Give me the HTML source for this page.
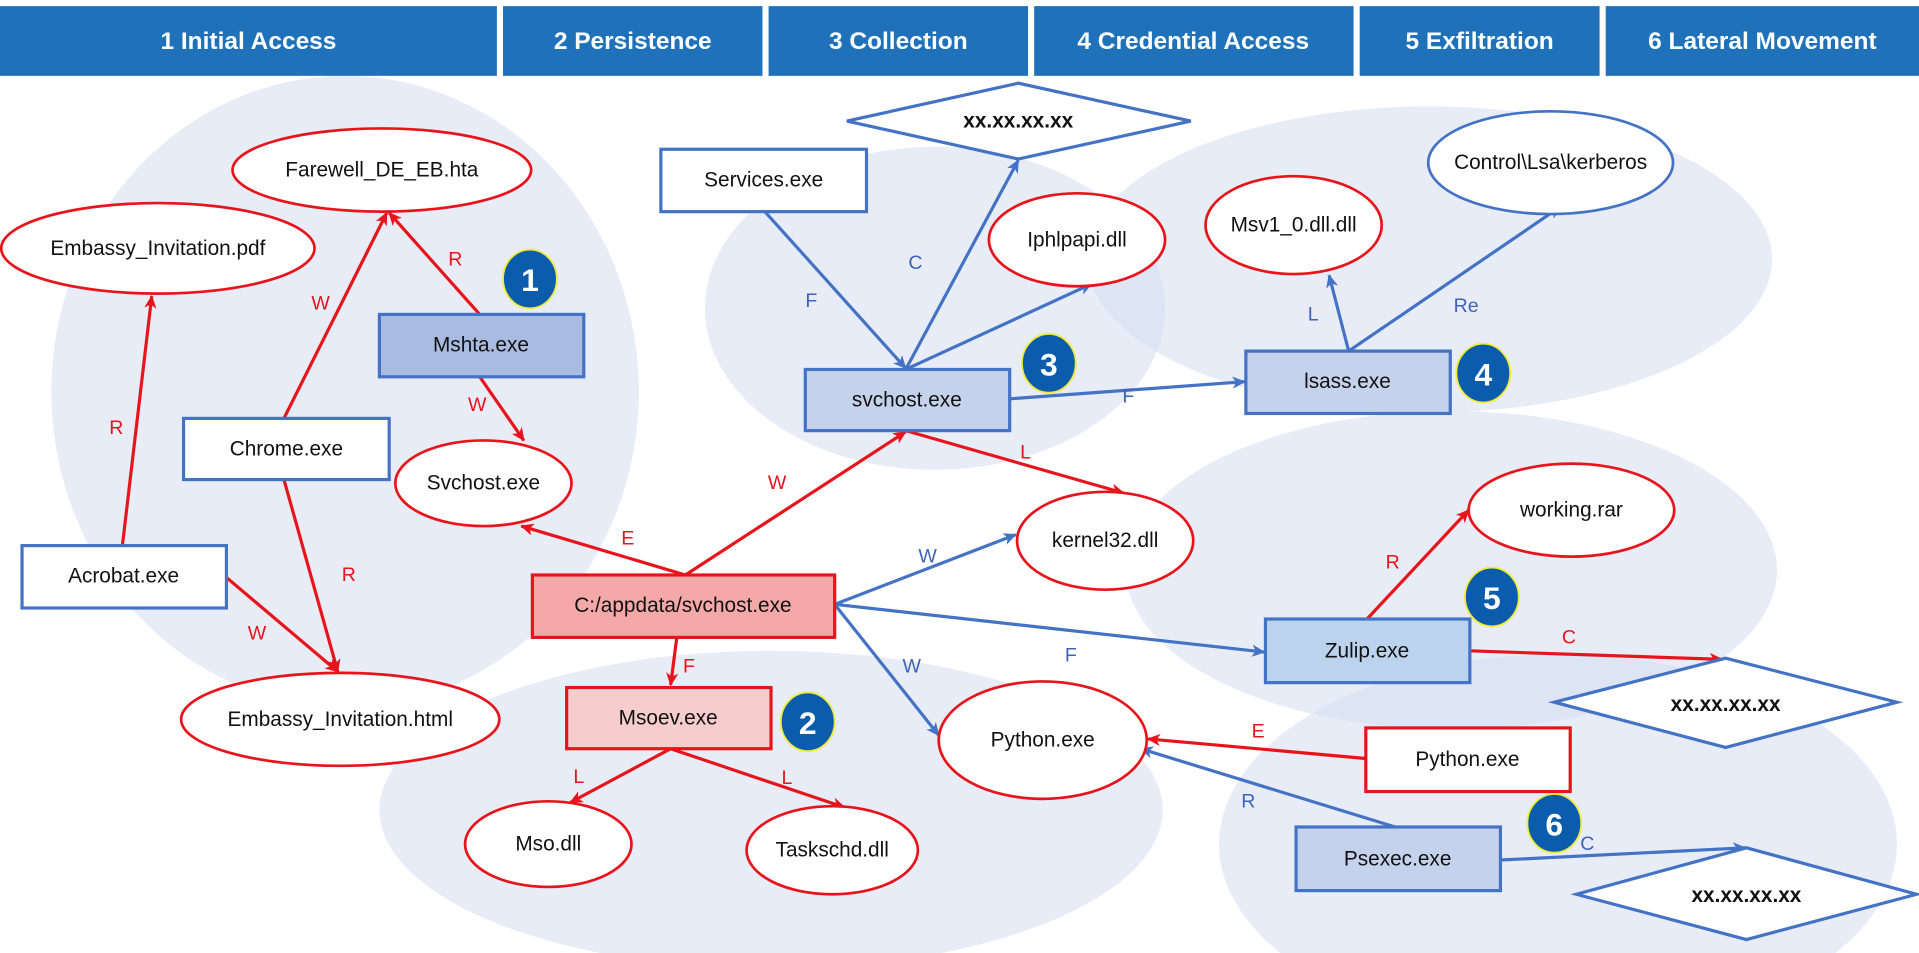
<!DOCTYPE html>
<html><head><meta charset="utf-8"><style>
html,body{margin:0;padding:0;background:#fff;width:1919px;height:953px;overflow:hidden;}
svg{display:block;}
text{font-family:"Liberation Sans",sans-serif;}
.n{font-size:17px;fill:#111;text-anchor:middle;dominant-baseline:central;}
.h{font-size:20px;fill:#fff;font-weight:bold;text-anchor:middle;dominant-baseline:central;}
.lr{font-size:16px;fill:#e8141c;text-anchor:middle;dominant-baseline:central;}
.lb{font-size:16px;fill:#3f63b8;text-anchor:middle;dominant-baseline:central;}
.b{font-size:26px;fill:#fff;font-weight:bold;text-anchor:middle;dominant-baseline:central;}
.er{stroke:#e8141c;stroke-width:2.6;fill:none;marker-end:url(#ar);}
.eb{stroke:#4472c4;stroke-width:2.6;fill:none;marker-end:url(#ab);}
.bg{fill:#d5dff2;opacity:0.58;}
</style></head><body>
<svg width="1919" height="953" viewBox="0 0 1568 779" preserveAspectRatio="none" xmlns="http://www.w3.org/2000/svg">
<defs>
<marker id="ar" markerWidth="11" markerHeight="10" refX="10" refY="5" orient="auto" markerUnits="userSpaceOnUse"><path d="M0,0 L11,5 L0,10 L3,5z" fill="#e8141c"/></marker>
<marker id="ab" markerWidth="11" markerHeight="10" refX="10" refY="5" orient="auto" markerUnits="userSpaceOnUse"><path d="M0,0 L11,5 L0,10 L3,5z" fill="#4472c4"/></marker>
</defs>
<g fill="#1f72ba">
<rect x="0" y="5" width="406" height="57"/>
<rect x="411" y="5" width="212" height="57"/>
<rect x="628" y="5" width="212" height="57"/>
<rect x="845" y="5" width="261" height="57"/>
<rect x="1111" y="5" width="196" height="57"/>
<rect x="1312" y="5" width="256" height="57"/>
</g>
<text class="h" x="203" y="34">1 Initial Access</text>
<text class="h" x="517" y="34">2 Persistence</text>
<text class="h" x="734" y="34">3 Collection</text>
<text class="h" x="975" y="34">4 Credential Access</text>
<text class="h" x="1209" y="34">5 Exfiltration</text>
<text class="h" x="1440" y="34">6 Lateral Movement</text>
<ellipse class="bg" cx="282" cy="320" rx="240" ry="258"/>
<ellipse class="bg" cx="764" cy="252" rx="188" ry="132"/>
<ellipse class="bg" cx="1168" cy="212" rx="280" ry="125"/>
<ellipse class="bg" cx="1186" cy="466" rx="266" ry="130"/>
<ellipse class="bg" cx="1273" cy="690" rx="277" ry="155"/>
<ellipse class="bg" cx="630" cy="662" rx="320" ry="130"/>
<line class="er" x1="100" y1="446" x2="124" y2="242"/>
<line class="er" x1="232" y1="342" x2="316" y2="174"/>
<line class="er" x1="392" y1="257" x2="318" y2="174"/>
<line class="er" x1="392" y1="308" x2="428" y2="360"/>
<line class="er" x1="232" y1="392" x2="276" y2="549"/>
<line class="er" x1="185" y1="472" x2="276" y2="549"/>
<line class="er" x1="560" y1="470" x2="426" y2="430"/>
<line class="er" x1="560" y1="470" x2="740" y2="353"/>
<line class="er" x1="553" y1="521" x2="548" y2="560"/>
<line class="er" x1="548" y1="612" x2="466" y2="656"/>
<line class="er" x1="548" y1="612" x2="690" y2="660"/>
<line class="eb" x1="682" y1="494" x2="830" y2="437"/>
<line class="eb" x1="682" y1="494" x2="767" y2="601"/>
<line class="eb" x1="682" y1="494" x2="1033" y2="533"/>
<line class="eb" x1="625" y1="173" x2="740" y2="301"/>
<line class="eb" x1="740" y1="302" x2="832" y2="131"/>
<line class="eb" x1="740" y1="302" x2="892" y2="232"/>
<line class="er" x1="740" y1="352" x2="918" y2="403"/>
<line class="eb" x1="825" y1="326" x2="1017" y2="312"/>
<line class="eb" x1="1102" y1="287" x2="1086" y2="225"/>
<line class="eb" x1="1102" y1="287" x2="1275" y2="169"/>
<line class="er" x1="1117" y1="506" x2="1200" y2="417"/>
<line class="er" x1="1201" y1="532" x2="1407" y2="539"/>
<line class="er" x1="1116" y1="620" x2="938" y2="604"/>
<line class="eb" x1="1140" y1="676" x2="932" y2="612"/>
<line class="eb" x1="1226" y1="703" x2="1426" y2="693"/>
<text class="lr" x="95" y="350">R</text>
<text class="lr" x="262" y="248">W</text>
<text class="lr" x="372" y="212">R</text>
<text class="lr" x="390" y="331">W</text>
<text class="lr" x="285" y="470">R</text>
<text class="lr" x="210" y="518">W</text>
<text class="lr" x="513" y="440">E</text>
<text class="lr" x="635" y="395">W</text>
<text class="lr" x="563" y="545">F</text>
<text class="lr" x="473" y="635">L</text>
<text class="lr" x="643" y="636">L</text>
<text class="lr" x="838" y="370">L</text>
<text class="lr" x="1138" y="460">R</text>
<text class="lr" x="1282" y="521">C</text>
<text class="lr" x="1028" y="598">E</text>
<text class="lb" x="758" y="455">W</text>
<text class="lb" x="745" y="545">W</text>
<text class="lb" x="875" y="536">F</text>
<text class="lb" x="663" y="246">F</text>
<text class="lb" x="748" y="215">C</text>
<text class="lb" x="922" y="324">F</text>
<text class="lb" x="1073" y="257">L</text>
<text class="lb" x="1198" y="250">Re</text>
<text class="lb" x="1020" y="655">R</text>
<text class="lb" x="1297" y="690">C</text>
<g fill="#fff" stroke="#e8141c" stroke-width="2.2">
<ellipse cx="312" cy="139" rx="122" ry="34"/>
<ellipse cx="129" cy="203" rx="128" ry="37"/>
<ellipse cx="395" cy="395" rx="72" ry="35"/>
<ellipse cx="278" cy="588" rx="130" ry="38"/>
<ellipse cx="448" cy="690" rx="68" ry="35"/>
<ellipse cx="680" cy="695" rx="70" ry="36"/>
<ellipse cx="852" cy="605" rx="85" ry="48"/>
<ellipse cx="880" cy="196" rx="72" ry="38"/>
<ellipse cx="903" cy="442" rx="72" ry="40"/>
<ellipse cx="1057" cy="184" rx="72" ry="40"/>
<ellipse cx="1284" cy="417" rx="84" ry="38"/>
</g>
<ellipse cx="1267" cy="133" rx="100" ry="42" fill="#fff" stroke="#4472c4" stroke-width="2.2"/>
<g fill="#fff" stroke="#4472c4" stroke-width="2.6">
<polygon points="692,99 832,68 973,99 832,130"/>
<polygon points="1270,574 1410,538 1550,574 1410,611"/>
<polygon points="1288,731 1427,693 1566,731 1427,768"/>
</g>
<g stroke-width="2.6">
<rect x="310" y="257" width="167" height="51" fill="#a9bbe0" stroke="#4472c4"/>
<rect x="150" y="342" width="168" height="50" fill="#fff" stroke="#4472c4"/>
<rect x="18" y="446" width="167" height="51" fill="#fff" stroke="#4472c4"/>
<rect x="435" y="470" width="247" height="51" fill="#f5a8a8" stroke="#e8141c"/>
<rect x="463" y="562" width="167" height="50" fill="#f6cccc" stroke="#e8141c"/>
<rect x="540" y="122" width="168" height="51" fill="#fff" stroke="#4472c4"/>
<rect x="658" y="302" width="167" height="50" fill="#c5d2ec" stroke="#4472c4"/>
<rect x="1018" y="287" width="167" height="51" fill="#c5d2ec" stroke="#4472c4"/>
<rect x="1034" y="506" width="167" height="52" fill="#bcd3ee" stroke="#4472c4"/>
<rect x="1116" y="595" width="167" height="52" fill="#fff" stroke="#e8141c"/>
<rect x="1059" y="676" width="167" height="52" fill="#c5d2ec" stroke="#4472c4"/>
</g>
<text class="n" x="312" y="139">Farewell_DE_EB.hta</text>
<text class="n" x="129" y="203">Embassy_Invitation.pdf</text>
<text class="n" x="395" y="395">Svchost.exe</text>
<text class="n" x="278" y="588">Embassy_Invitation.html</text>
<text class="n" x="448" y="690">Mso.dll</text>
<text class="n" x="680" y="695">Taskschd.dll</text>
<text class="n" x="852" y="605">Python.exe</text>
<text class="n" x="880" y="196">Iphlpapi.dll</text>
<text class="n" x="903" y="442">kernel32.dll</text>
<text class="n" x="1057" y="184">Msv1_0.dll.dll</text>
<text class="n" x="1284" y="417">working.rar</text>
<text class="n" x="1267" y="133">Control\Lsa\kerberos</text>
<text class="n" x="832" y="99" font-weight="bold">xx.xx.xx.xx</text>
<text class="n" x="1410" y="576" font-weight="bold">xx.xx.xx.xx</text>
<text class="n" x="1427" y="732" font-weight="bold">xx.xx.xx.xx</text>
<text class="n" x="393" y="282">Mshta.exe</text>
<text class="n" x="234" y="367">Chrome.exe</text>
<text class="n" x="101" y="471">Acrobat.exe</text>
<text class="n" x="558" y="495">C:/appdata/svchost.exe</text>
<text class="n" x="546" y="587">Msoev.exe</text>
<text class="n" x="624" y="147">Services.exe</text>
<text class="n" x="741" y="327">svchost.exe</text>
<text class="n" x="1101" y="312">lsass.exe</text>
<text class="n" x="1117" y="532">Zulip.exe</text>
<text class="n" x="1199" y="621">Python.exe</text>
<text class="n" x="1142" y="702">Psexec.exe</text>
<g fill="#0b5cad" stroke="#f0ec3a" stroke-width="1.5">
<ellipse cx="433" cy="228" rx="22" ry="24"/>
<ellipse cx="660" cy="590" rx="22" ry="24"/>
<ellipse cx="857" cy="297" rx="22" ry="24"/>
<ellipse cx="1212" cy="305" rx="22" ry="24"/>
<ellipse cx="1219" cy="488" rx="22" ry="24"/>
<ellipse cx="1270" cy="673" rx="22" ry="24"/>
</g>
<text class="b" x="433" y="229">1</text>
<text class="b" x="660" y="591">2</text>
<text class="b" x="857" y="298">3</text>
<text class="b" x="1212" y="306">4</text>
<text class="b" x="1219" y="489">5</text>
<text class="b" x="1270" y="674">6</text>
</svg>
</body></html>
